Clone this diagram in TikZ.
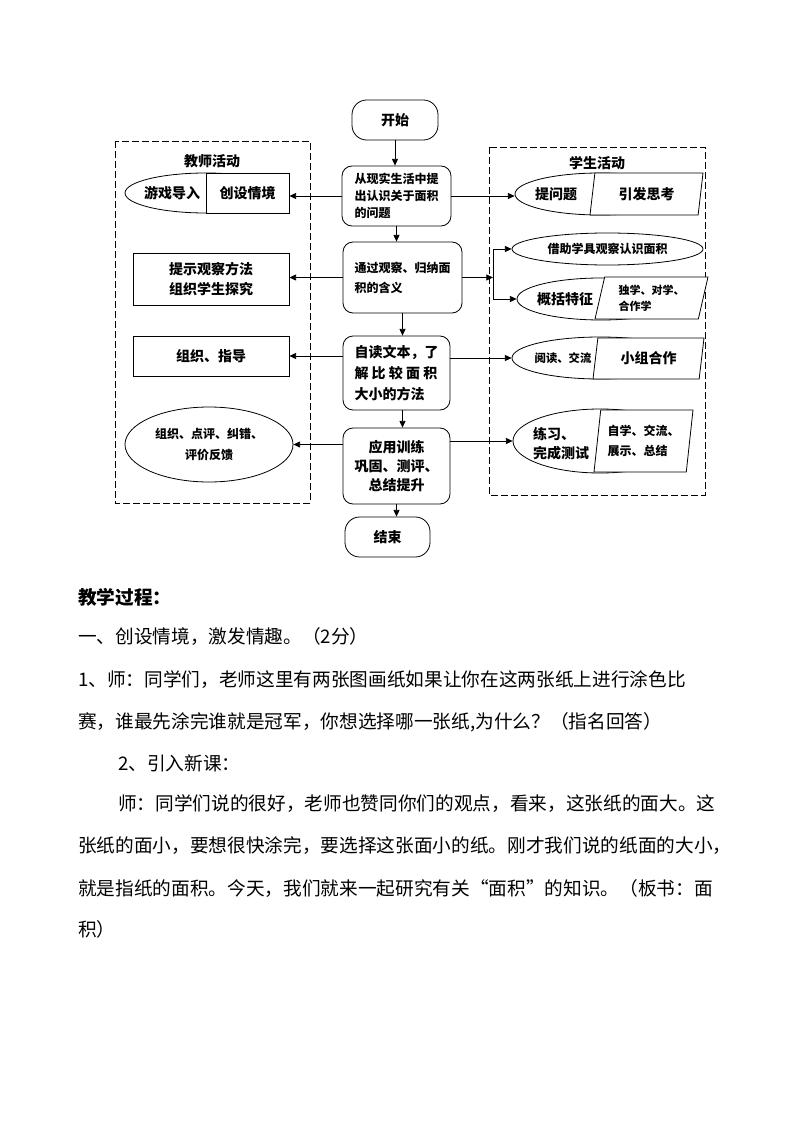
\documentclass[tikz,border=0pt]{standalone}
\usepackage{fontspec}
\setmainfont{Noto Sans CJK SC}
\usetikzlibrary{shapes.geometric,arrows.meta}

\begin{document}
\begin{tikzpicture}[x=0.75pt,y=-0.75pt,
    every node/.style={inner sep=0pt, font=\fontsize{10.5}{14.5}\selectfont\bfseries},
    stepnode/.style={draw, rounded corners=7.5pt, fill=white, line width=0.6pt},
    termnode/.style={draw, rounded corners=11pt, line width=0.6pt},
    plainbox/.style={draw, fill=white, line width=0.6pt},
    oval/.style={draw, ellipse, fill=white, line width=0.6pt},
    slant/.style={draw, trapezium, trapezium left angle=70, trapezium right angle=110,
        trapezium stretches body, fill=white, line width=0.6pt},
    arr/.style={-{Triangle[length=5pt,width=4.5pt]}, line width=0.6pt},
    group/.style={dash pattern=on 5pt off 2.5pt, line width=0.6pt},
    smalltext/.style={font=\fontsize{9}{13}\selectfont\bfseries},
    para/.style={anchor=west, font=\fontsize{14}{14}\selectfont},
    ]
    \useasboundingbox (0,0) rectangle (794,1123);

    % middle column
    \node[termnode, minimum width=64.5pt, minimum height=30pt] (start) at (395,120) {开始};
    \node[stepnode, minimum width=81.75pt, minimum height=45pt, align=left, smalltext] (b1) at (396.5,196) {从现实生活中提\\出认识关于面积\\的问题};
    \node[stepnode, minimum width=89.25pt, minimum height=53.25pt, align=left, font=\fontsize{9}{15}\selectfont\bfseries] (b2) at (402.5,277.5) {通过观察、归纳面\\积的含义};
    \node[stepnode, minimum width=80.25pt, minimum height=55.5pt, align=left, font=\fontsize{10.5}{15.75}\selectfont\bfseries] (b3) at (396.5,373) {自读文本，了\\解 比 较 面 积\\大小的方法};
    \node[stepnode, minimum width=80.25pt, minimum height=57pt, align=center] (b4) at (396.5,466) {应用训练\\巩固、测评、\\总结提升};
    \node[termnode, minimum width=63.75pt, minimum height=30pt] (stop) at (387.5,537) {结束};

    % teacher
    \draw[group] (115,141) rectangle (310,503);
    \node (tt) at (212,161) {教师活动};
    \node[oval, minimum width=121.5pt, minimum height=30pt] (t1o) at (206,193) {};
    \node[plainbox, minimum width=62.25pt, minimum height=30pt] (t1) at (247.5,193) {创设情境};
    \node (t1l) at (172,193) {游戏导入};
    \node[plainbox, minimum width=117pt, minimum height=39pt, align=center] (t2) at (211,279) {提示观察方法\\组织学生探究};
    \node[plainbox, minimum width=117pt, minimum height=30pt] (t3) at (211,356) {组织、指导};
    \node[oval, minimum width=126pt, minimum height=56.25pt, align=center, font=\fontsize{9}{15.75}\selectfont\bfseries] (t4) at (209,444.5) {组织、点评、纠错、\\评价反馈};

    % student
    \draw[group] (489,147) rectangle (705,495);
    \node (st) at (597,163) {学生活动};
    \node[oval, minimum width=127.5pt, minimum height=31.5pt] (s1o) at (600,194) {};
    \node[slant, minimum width=84.75pt, minimum height=31.5pt] (s1) at (646.5,194) {引发思考};
    \node (s1l) at (556,194) {提问题};
    \node[oval, minimum width=143.25pt, minimum height=24pt, smalltext] (s2) at (607.5,249) {借助学具观察认识面积};
    \node[oval, minimum width=126pt, minimum height=31.5pt] (s3o) at (601,299) {};
    \node[slant, minimum width=84.75pt, minimum height=31.5pt, align=left, font=\fontsize{8.25}{12}\selectfont\bfseries] (s3) at (651.5,298) {独学、对学、\\合作学};
    \node (s3l) at (565,299) {概括特征};
    \node[oval, minimum width=132pt, minimum height=31.5pt] (s4o) at (600,358) {};
    \node[slant, minimum width=83.25pt, minimum height=30.75pt] (s4) at (648.5,358.5) {小组合作};
    \node[font=\fontsize{8.5}{10}\selectfont\bfseries] (s4l) at (563,358) {阅读、交流};
    \node[oval, minimum width=130.5pt, minimum height=48pt] (s5o) at (600,441) {};
    \node[slant, trapezium left angle=78, trapezium right angle=102, minimum width=74.25pt, minimum height=46.5pt, align=left, font=\fontsize{9}{15}\selectfont\bfseries] (s5) at (643.5,441) {自学、交流、\\展示、总结};
    \node[align=left] (s5l) at (561,444) {练习、\\完成测试};

    % arrows
    \draw[arr] (start.south) -- (start.south |- b1.north);
    \draw[arr] (b1.south) -- (b1.south |- b2.north);
    \draw[arr] (b2.south) -- (b2.south |- b3.north);
    \draw[arr] (b3.south -| b2.south) -- (b4.north -| b2.south);
    \draw[arr] (b4.south) -- (b4.south |- stop.north);
    \draw[arr] (b1.west) -- (b1.west -| t1.east);
    \draw[arr] (b2.west) -- (b2.west -| t2.east);
    \draw[arr] (b3.west |- t3.east) -- (t3.east);
    \draw[arr] (b4.west |- t4.east) -- (t4.east);
    \draw[arr] (b1.east) -- (b1.east -| s1o.west);
    \coordinate (fork) at (493,277.5);
    \draw[arr] (b2.east) -- (fork);
    \draw[arr] (fork) |- (s2.west);
    \draw[arr] (fork) |- (s3o.west);
    \draw[arr] (b3.east |- s4o.west) -- (s4o.west);
    \draw[arr] (b4.east |- s5o.west) -- (s5o.west);

    % text below
    \node[para, font=\fontsize{14}{14}\selectfont\bfseries] (title) at (78,597) {教学过程：};
    \node[para] (p1) at (78,637) {一、创设情境，激发情趣。（2分）};
    \node[para] (p2) at (78,680) {1、师：同学们，老师这里有两张图画纸如果让你在这两张纸上进行涂色比};
    \node[para] (p3) at (78,722) {赛，谁最先涂完谁就是冠军，你想选择哪一张纸,为什么？（指名回答）};
    \node[para] (p4) at (118,763) {2、引入新课：};
    \node[para] (p5) at (118,804) {师：同学们说的很好，老师也赞同你们的观点，看来，这张纸的面大。这};
    \node[para] (p6) at (78,846) {张纸的面小，要想很快涂完，要选择这张面小的纸。刚才我们说的纸面的大小，};
    \node[para] (p7) at (78,888) {就是指纸的面积。今天，我们就来一起研究有关“面积”的知识。（板书：面};
    \node[para] (p8) at (78,929) {积）};
\end{tikzpicture}
\end{document}
